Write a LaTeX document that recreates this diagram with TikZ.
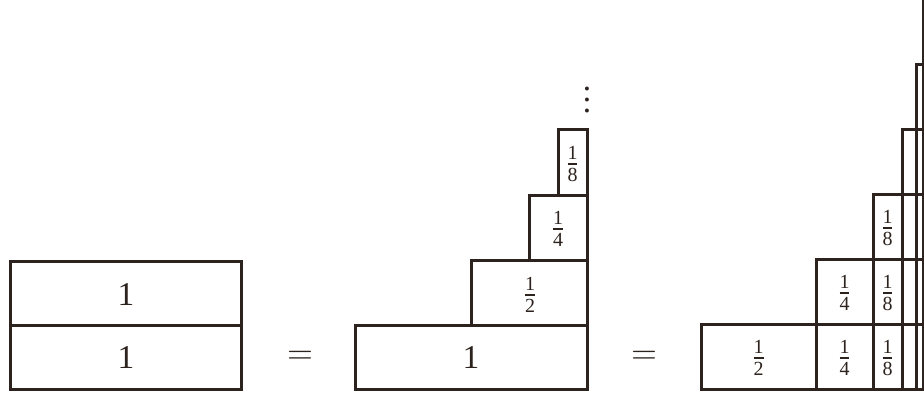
\documentclass[tikz,border=0pt]{standalone}
\usepackage{fontspec}
\setmainfont{Liberation Serif}
\definecolor{inkc}{RGB}{45,35,30}
\newcommand\fr[2]{{\fontsize{8}{10}\selectfont$\frac{\mathrm{#1}}{\mathrm{#2}}$}}
\newcommand\myvdots{\vbox{\baselineskip3.2pt\lineskiplimit-10pt\hbox{.}\hbox{.}\hbox{.}}}
\begin{document}
\begin{tikzpicture}[x=0.3pt,y=-0.3pt,line width=0.9pt,
  ink/.style={draw=inkc},
  lab/.style={inner sep=0pt,text=inkc,font=\fontsize{10}{12}\selectfont}]
\useasboundingbox (0,0) rectangle (924,399);
\clip (0,0) rectangle (924,399);
% left figure
\draw[ink] (11,262) rectangle (241,390);
\draw[ink] (11,326) -- (241,326);
\node[lab] (l1) at (126,295) {1};
\node[lab] (l2) at (126,358) {1};
% equals signs
\node[lab] (eq1) at (300,357) {$=$};
\node[lab] (eq2) at (644,357) {$=$};
% middle figure
\draw[ink] (355,326) rectangle (587,390);
\draw[ink] (471,261) rectangle (587,326);
\draw[ink] (529,196) rectangle (587,261);
\draw[ink] (558,130) rectangle (587,196);
\node[lab] (m1) at (471,358) {1};
\node[lab] (m2) at (530,295) {\fr{1}{2}};
\node[lab] (m4) at (558,229) {\fr{1}{4}};
\node[lab] (m8) at (572.5,164) {\fr{1}{8}};
\node[lab] (dots) at (587,100) {\myvdots};
% right figure
\foreach \j in {0,...,8} {
  \pgfmathsetmacro\xa{701+230*(1-2^(-\j))}
  \pgfmathsetmacro\xb{701+230*(1-2^(-\j-1))}
  \foreach \k in {0,...,\j} {
    \draw[ink] (\xa,{390-65*\k}) rectangle (\xb,{390-65*(\k+1)});
  }
}
\node[lab] (r00) at (758.5,358) {\fr{1}{2}};
\node[lab] (r10) at (844.5,358) {\fr{1}{4}};
\node[lab] (r11) at (844.5,293) {\fr{1}{4}};
\node[lab] (r20) at (887.5,358) {\fr{1}{8}};
\node[lab] (r21) at (887.5,293) {\fr{1}{8}};
\node[lab] (r22) at (887.5,228) {\fr{1}{8}};
\end{tikzpicture}
\end{document}
